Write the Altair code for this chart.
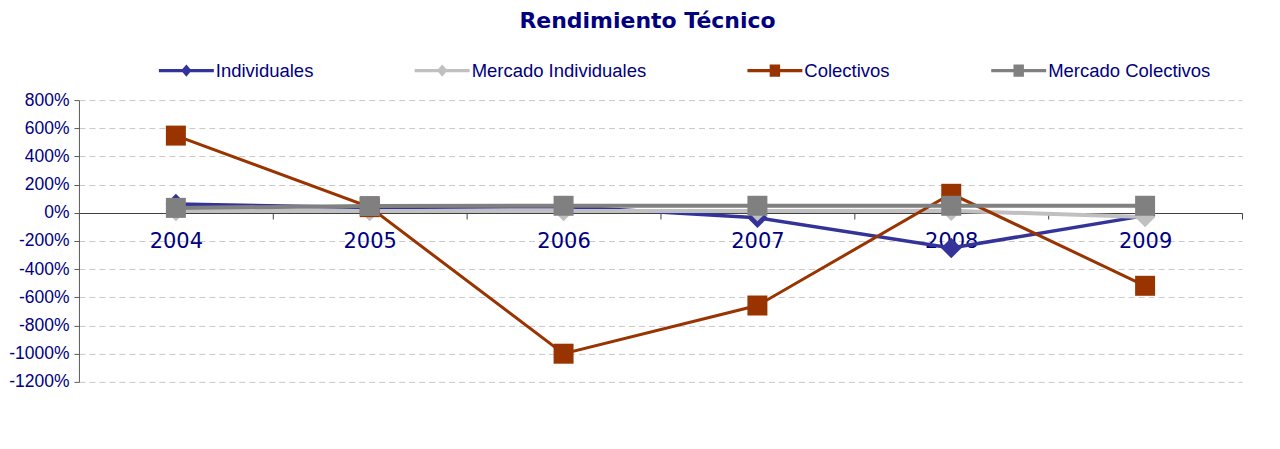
import altair as alt
import pandas as pd

# ---- data ----
years = ["2004", "2005", "2006", "2007", "2008", "2009"]
series = ["Individuales", "Mercado Individuales", "Colectivos", "Mercado Colectivos"]
individuales = [62, 38, 45, -35, -250, -20]
mercado_individuales = [12, 12, 12, 12, 15, -30]
colectivos = [548, 40, -1000, -658, 135, -518]
mercado_colectivos = [35, 48, 50, 50, 50, 50]
y_ticks = list(range(-1200, 801, 200))

# ---- styles ----
colors = ["#333399", "#C0C0C0", "#993300", "#808080"]
markers = ["diamond", "diamond", "square", "square"]
line_widths = [3.5, 4, 3, 4]
marker_sizes = [420, 420, 400, 400]
legend_paths = [
    "M-1,-0.06H1V0.06H-1Z M0,-0.22L0.19,0L0,0.22L-0.19,0Z",
    "M-1,-0.06H1V0.06H-1Z M0,-0.22L0.19,0L0,0.22L-0.19,0Z",
    "M-1,-0.06H1V0.06H-1Z M-0.19,-0.22H0.19V0.22H-0.19Z",
    "M-1,-0.06H1V0.06H-1Z M-0.19,-0.22H0.19V0.22H-0.19Z",
]

values_by_series = [individuales, mercado_individuales, colectivos, mercado_colectivos]
rows = []
for s, vals in zip(series, values_by_series):
    for yr, v in zip(years, vals):
        rows.append({"series": s, "year": yr, "value": v})
df = pd.DataFrame(rows)

NAVY = "#000080"

x_enc = alt.X(
    "year:N",
    sort=years,
    bandPosition=0.5,
    scale=alt.Scale(type="band", domain=years, paddingInner=0, paddingOuter=0),
    axis=alt.Axis(
        title=None,
        orient="bottom",
        offset=-169,
        domainColor="#404040",
        domainWidth=1,
        tickColor="#404040",
        tickSize=6,
        tickBand="extent",
        labelFont="DejaVu Sans",
        labelFontSize=21,
        labelColor=NAVY,
        labelPadding=12,
        labelAngle=0,
        grid=False,
    ),
)
y_enc = alt.Y(
    "value:Q",
    scale=alt.Scale(domain=[-1200, 800], nice=False, zero=False),
    axis=alt.Axis(
        title=None,
        values=y_ticks,
        labelExpr="datum.value + '%'",
        labelFont="Liberation Sans",
        labelFontSize=17.5,
        labelColor=NAVY,
        labelPadding=5,
        tickSize=5,
        tickColor="#595959",
        domainColor="#595959",
        grid=True,
        gridColor="#c8c8c8",
        gridDash=[6, 4],
        gridWidth=1,
    ),
)
color_scale = alt.Scale(domain=series, range=colors)

base = alt.Chart(df)
layers = []
for s, col, mk, lw, ms in zip(series, colors, markers, line_widths, marker_sizes):
    sub = base.transform_filter(alt.datum.series == s)
    layers.append(
        sub.mark_line(strokeWidth=lw).encode(
            x=x_enc, y=y_enc,
            color=alt.Color("series:N", scale=color_scale, legend=None),
        )
    )
    layers.append(
        sub.mark_point(shape=mk, size=ms, filled=True, opacity=1).encode(
            x=x_enc, y=y_enc,
            color=alt.Color("series:N", scale=color_scale, legend=None),
        )
    )

leg = dict(
    title=None,
    orient="none",
    legendX=80,
    legendY=-57,
    direction="horizontal",
    columns=4,
    columnPadding=101,
    padding=0,
    symbolSize=3025,
    symbolStrokeWidth=0,
    symbolOpacity=1,
    labelFont="Liberation Sans",
    labelFontSize=18.5,
    labelColor=NAVY,
    labelOffset=2,
    labelLimit=0,
)
legend_layer = base.mark_point(filled=True).encode(
    x=x_enc,
    y=y_enc,
    opacity=alt.value(0),
    color=alt.Color("series:N", scale=color_scale, title=None, legend=alt.Legend(**leg)),
    shape=alt.Shape("series:N", scale=alt.Scale(domain=series, range=legend_paths),
                    title=None, legend=alt.Legend(**leg)),
)
layers.insert(0, legend_layer)

chart = alt.layer(*layers).properties(
    width=1164,
    height=282,
    autosize=alt.AutoSizeParams(type="none"),
    padding={"left": 71, "top": 92, "right": 30, "bottom": 60},
    title=alt.TitleParams(
        "Rendimiento Técnico",
        font="DejaVu Sans",
        fontSize=22,
        fontWeight="bold",
        color=NAVY,
        anchor="middle",
        frame="group",
        baseline="alphabetic",
        offset=10,
        dy=17,
        dx=-13,
    ),
).configure_view(strokeWidth=0)

chart.save("out.html", embed_options={"renderer": "svg", "actions": False})
